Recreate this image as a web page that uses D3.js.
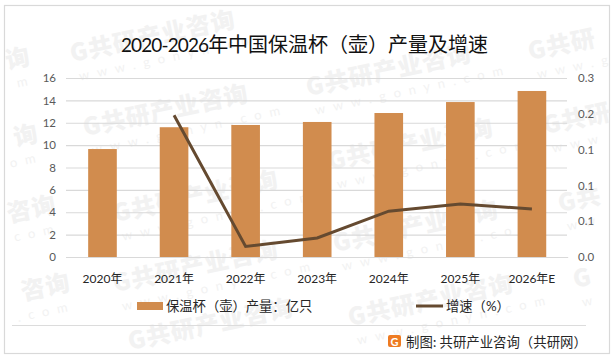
<!DOCTYPE html>
<html><head><meta charset="utf-8">
<script src="https://cdn.jsdelivr.net/npm/d3@7/dist/d3.min.js"></script>
<style>html,body{margin:0;padding:0;background:#fff}svg{display:block}text{font-family:Lato,"Noto Sans CJK SC",sans-serif}</style>
</head><body><svg id="c" width="616" height="360"></svg>
<script>
const categories=["2020年","2021年","2022年","2023年","2024年","2025年","2026年E"];
const output=[9.65,11.6,11.8,12.07,12.87,13.85,14.84];
const growth=[null,0.198,0.0147,0.0265,0.064,0.074,0.067];
const leftTicks=[0,2,4,6,8,10,12,14,16];
const rightTicks=[0,0.05,0.1,0.15,0.2,0.25];
const titleYears="2020-2026";
const titleRest="年中国保温杯（壶）产量及增速";
const seriesNames=["保温杯（壶）产量：亿只","增速（%）"];
const credit="制图: 共研产业咨询（共研网）";
const wmCn="共研产业咨询", wmEn="www.gonyn.com";
// watermark placement: full stamps, then the partial ones that the frame trims
const wmFull=[[72,62,wmEn],[85,136,wmEn],[308,96,wmEn],[330,170,wmEn],[115,222,wmEn],[115,292,wmEn],[335,252,wmEn],[130,350,""],[350,326,wmEn]];
const wmStart=[[530,60,"G共研","www.g"],[545,134,"G共研","www"],[560,212,"G共","ww"],[575,288,"G","w"]];
const wmEnd=[[32,64,"询","m"],[40,141,"询","om"],[58,212,"咨询","com"],[72,290,"咨询",".com"]];

const svg=d3.select("#c");
const m={l:66,r:567,t:78,b:257};
svg.append("rect").attr("x",4.5).attr("y",5.5).attr("width",605).attr("height",348).attr("fill","#fff").attr("stroke","#d9d9d9").attr("stroke-width",1.2);

const wm=svg.append("g").attr("fill","#f2f2f2");
function stamp(px,py,cn,en,anchor){
  const g=wm.append("g").attr("transform",`translate(${px},${py}) rotate(-12)`).attr("text-anchor",anchor);
  g.append("text").attr("font-size",24).attr("font-weight",900).attr("letter-spacing",1).style("font-family","'Noto Sans CJK SC'").text(cn);
  if(en) g.append("text").attr("x",anchor==="start"?4:0).attr("y",20).attr("font-size",13).attr("letter-spacing",8).text(en);
}
wmFull.forEach(([a,b,e])=>stamp(a,b,"G"+wmCn,e,"start"));
wmStart.forEach(([a,b,c,d])=>stamp(a,b,c,d,"start"));
wmEnd.forEach(([a,b,c,d])=>stamp(a,b,c,d,"end"));

const x=d3.scaleBand().domain(categories).range([m.l+.7,m.r+.7]).paddingInner(0.6).paddingOuter(0.3);
const yL=d3.scaleLinear().domain([0,16]).range([m.b,m.t]);
const yR=d3.scaleLinear().domain([0,0.25]).range([m.b,m.t]);

const axL=svg.append("g").attr("transform",`translate(${m.l},0)`).call(d3.axisLeft(yL).tickValues(leftTicks).tickSize(-(m.r-m.l)).tickPadding(10));
axL.select(".domain").remove();
axL.selectAll("line").attr("stroke","#d9d9d9").attr("stroke-width",1.1);
axL.selectAll("text").attr("fill","#595959").attr("font-size",11.5);
const axR=svg.append("g").attr("transform",`translate(${m.r},0)`).call(d3.axisRight(yR).tickValues(rightTicks).tickSize(0).tickPadding(11).tickFormat(d3.format(".1f")));
axR.select(".domain").remove();
axR.selectAll("text").attr("fill","#595959").attr("font-size",11.5);

svg.append("g").selectAll("rect").data(output).join("rect")
 .attr("x",(d,i)=>x(categories[i])).attr("width",x.bandwidth()).attr("y",d=>yL(d)).attr("height",d=>m.b-yL(d)).attr("fill","#d18c4e");

const axB=svg.append("g").attr("transform",`translate(0,${m.b})`).call(d3.axisBottom(x).tickSize(0).tickPadding(17));
axB.select(".domain").attr("stroke","#d9d9d9");
axB.selectAll("text").attr("fill","#262626").attr("font-size",12);

const line=d3.line().defined(d=>d!==null).x((d,i)=>x(categories[i])+x.bandwidth()/2).y(d=>yR(d));
svg.append("path").datum(growth).attr("d",line).attr("fill","none").attr("stroke","#654a30").attr("stroke-width",3);

const t=svg.append("text").attr("x",121).attr("y",52).attr("fill","#111");
t.append("tspan").attr("font-size",19).attr("letter-spacing",-0.9).text(titleYears);
t.append("tspan").attr("font-size",20).style("font-family","'Noto Sans CJK SC'").text(titleRest);

const lg=svg.append("g").style("font-family","'Noto Sans CJK SC'");
lg.append("rect").attr("x",137).attr("y",302).attr("width",26).attr("height",8).attr("fill","#d18c4e");
lg.append("text").attr("x",166).attr("y",311).attr("font-size",13.3).attr("fill","#262626").text(seriesNames[0]);
lg.append("line").attr("x1",416).attr("x2",443).attr("y1",306).attr("y2",306).attr("stroke","#654a30").attr("stroke-width",3);
lg.append("text").attr("x",446).attr("y",311).attr("font-size",13.3).attr("fill","#262626").text(seriesNames[1]);

svg.append("line").attr("x1",12).attr("x2",586).attr("y1",325.5).attr("y2",325.5).attr("stroke","#dcdcdc");
const logo=svg.append("g");
logo.append("rect").attr("x",388).attr("y",335).attr("width",13).attr("height",12).attr("rx",2).attr("fill","#ee7b22");
logo.append("text").attr("x",394.5).attr("y",345.5).attr("text-anchor","middle").attr("font-size",11).attr("font-weight",700).attr("fill","#fff").text("G");
svg.append("text").attr("x",406).attr("y",347).attr("font-size",13.4).attr("fill","#262626").style("font-family","'Noto Sans CJK SC'").text(credit);
</script></body></html>
